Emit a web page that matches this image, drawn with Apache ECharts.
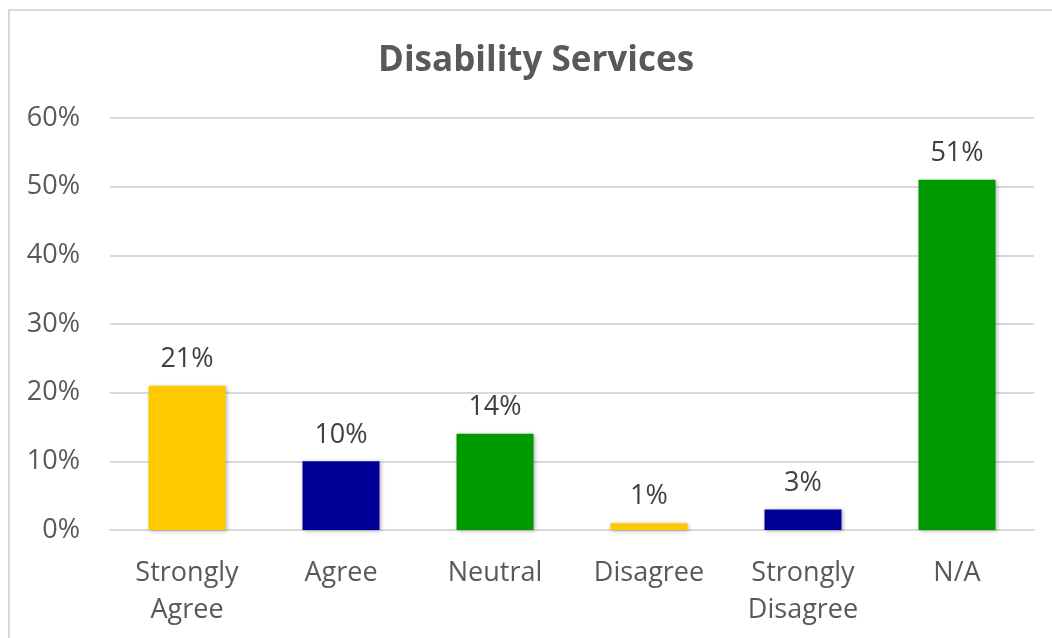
<!DOCTYPE html>
<html><head><meta charset="utf-8">
<script src="https://cdn.jsdelivr.net/npm/echarts@6/dist/echarts.min.js"></script>
<style>html,body{margin:0;padding:0;background:#fff}#c{width:1052px;height:638px;position:relative}
#frame{position:absolute;left:8px;top:9px;width:1100px;height:700px;border:2px solid #d9d9d9;box-sizing:border-box;pointer-events:none}</style>
</head><body><div id="c"></div><div id="frame" style="position:absolute;left:8px;top:9px"></div>
<script>
const categories = ['Strongly\nAgree', 'Agree', 'Neutral', 'Disagree', 'Strongly\nDisagree', 'N/A'];
const values = [21, 10, 14, 1, 3, 51];
const barColors = ['#FFC900', '#000099', '#009900', '#FFC900', '#000099', '#009900'];
const yTicks = [0, 10, 20, 30, 40, 50, 60];
const FONT = '"Open Sans", sans-serif';
const chart = echarts.init(document.getElementById('c'));
chart.setOption({
  animation: false,
  backgroundColor: '#fff',
  title: {text: 'Disability Services', left: 373, top: 39,
    textStyle: {fontFamily: FONT, fontSize: 35, fontWeight: 'bold', color: '#595959'}},
  grid: {left: 110, right: 18, top: 118, bottom: 108},
  xAxis: {type: 'category', data: categories,
    axisLine: {lineStyle: {color: '#d9d9d9', width: 2}}, axisTick: {show: false},
    axisLabel: {fontFamily: FONT, fontSize: 27, color: '#595959', margin: 25, lineHeight: 37, interval: 0}},
  yAxis: {type: 'value', min: yTicks[0], max: yTicks[yTicks.length-1], interval: 10,
    axisLine: {show: false}, axisTick: {show: false},
    splitLine: {lineStyle: {color: '#d9d9d9', width: 2}},
    axisLabel: {fontFamily: FONT, fontSize: 27, color: '#595959', margin: 30, formatter: v => v + '%'}},
  series: [{type: 'bar', barWidth: '50%',
    data: values.map((v, i) => ({value: v, itemStyle: {color: barColors[i]}})),
    itemStyle: {shadowColor: 'rgba(0,0,0,0.3)', shadowBlur: 4, shadowOffsetX: 1, shadowOffsetY: 1},
    label: {show: true, position: 'top', distance: 13, fontFamily: FONT, fontSize: 27, color: '#404040', formatter: p => p.value + '%'}}]
});
</script></body></html>
